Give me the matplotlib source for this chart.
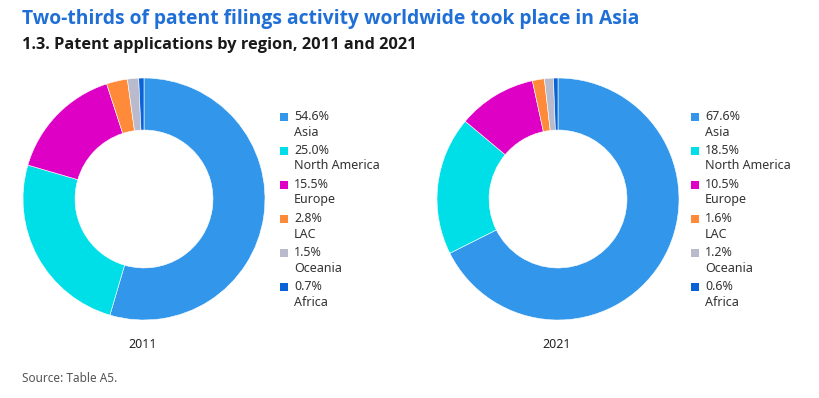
import matplotlib
matplotlib.use("Agg")
import matplotlib.pyplot as plt
from matplotlib.patches import Rectangle

plt.rcParams['font.family'] = ['Noto Sans', 'DejaVu Sans']

regions = ["Asia", "North America", "Europe", "LAC", "Oceania", "Africa"]
share_2011 = [54.6, 25.0, 15.5, 2.8, 1.5, 0.7]
share_2021 = [67.6, 18.5, 10.5, 1.6, 1.2, 0.6]
years = ["2011", "2021"]
colors = ["#3296ea", "#00dfe8", "#de00c4", "#ff8b3a", "#b9bbcc", "#0a63d6"]

W, H = 819, 398
fig = plt.figure(figsize=(W / 100, H / 100), dpi=100)

def px(x, y):
    return x / W, 1 - y / H

fig.text(*px(22, 19), "Two-thirds of patent filings activity worldwide took place in Asia",
         color="#1f6fd6", fontsize=13.9, fontweight="bold", family=["Open Sans", "DejaVu Sans"],
         va="center", ha="left")
fig.text(*px(22, 45), "1.3. Patent applications by region, 2011 and 2021",
         color="#1a1a1a", fontsize=11.8, fontweight="bold", family=["Open Sans", "DejaVu Sans"],
         va="center", ha="left")

centers = [(144, 199), (558, 199)]
legend_x = [280, 691]
R = 121
for values, year, (cx, cy), lx in zip([share_2011, share_2021], years, centers, legend_x):
    ax = fig.add_axes([(cx - R) / W, (H - cy - R) / H, 2 * R / W, 2 * R / H])
    ax.pie(values, colors=colors, startangle=90, counterclock=False, radius=1,
           wedgeprops=dict(width=0.43, edgecolor="white", linewidth=0.4))
    ax.set_xlim(-1.0, 1.0)
    ax.set_ylim(-1.0, 1.0)
    ax.set_aspect("auto")
    ax.axis("off")
    fig.text(*px(cx - 1, 345), year, fontsize=9, color="#222222", ha="center", va="center")
    for i, (reg, val, col) in enumerate(zip(regions, values, colors)):
        y0 = 117 + i * 34
        x0, y0f = px(lx, y0 + 4)
        fig.patches.append(Rectangle((x0, y0f), 8 / W, 8 / H, transform=fig.transFigure,
                                     facecolor=col, edgecolor="none"))
        fig.text(*px(lx + 14, y0), f"{val:.1f}%", fontsize=9, color="#333333",
                 ha="left", va="center")
        fig.text(*px(lx + 14, y0 + 15), reg, fontsize=9, color="#333333",
                 ha="left", va="center")

fig.text(*px(22, 379), "Source: Table A5.", fontsize=8.5, color="#555555",
         ha="left", va="center")

fig.savefig("out.png", dpi=100, facecolor="white")
